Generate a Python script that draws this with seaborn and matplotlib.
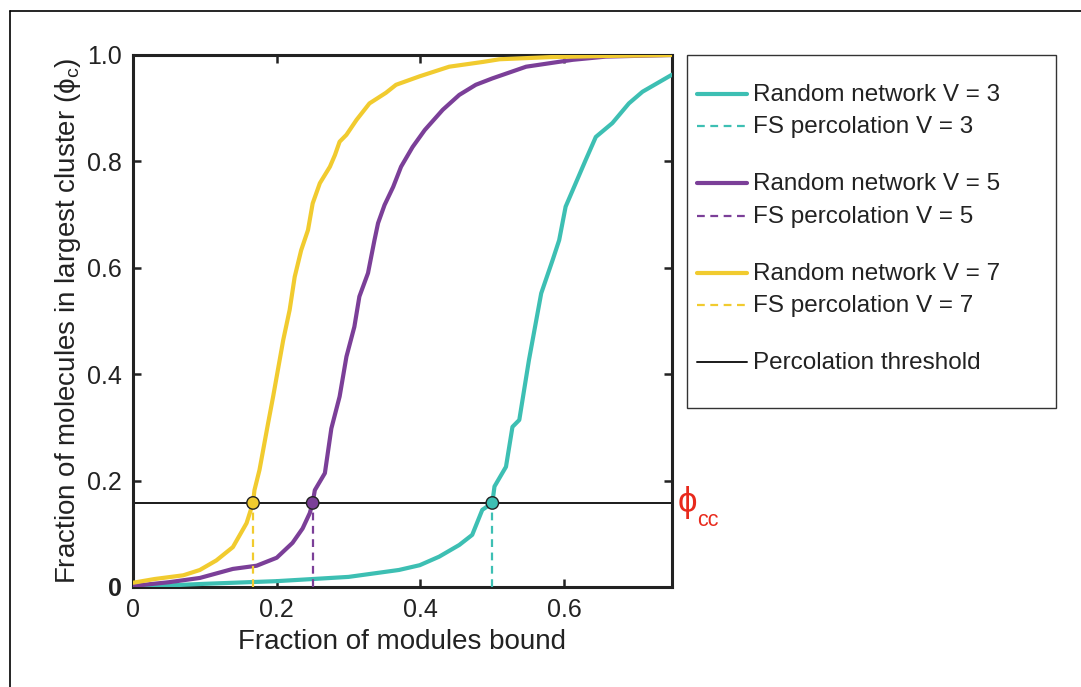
import numpy as np
import pandas as pd
import matplotlib
matplotlib.use("Agg")
import matplotlib.pyplot as plt
import matplotlib.transforms as mtransforms
import seaborn as sns
from matplotlib.lines import Line2D
from matplotlib.patches import Rectangle

# ---------------- data ----------------
teal_x = [0, 0.1, 0.2, 0.3, 0.37, 0.399, 0.426, 0.454, 0.472, 0.486, 0.5, 0.503, 0.519,
          0.528, 0.5375, 0.551, 0.568, 0.584, 0.593, 0.602, 0.616, 0.63, 0.644, 0.667,
          0.69, 0.709, 0.75]
teal_y = [0.0, 0.006, 0.011, 0.019, 0.032, 0.041, 0.057, 0.079, 0.098, 0.145, 0.158, 0.189,
          0.226, 0.301, 0.314, 0.427, 0.552, 0.615, 0.652, 0.715, 0.759, 0.803, 0.846, 0.872,
          0.909, 0.931, 0.963]

purple_x = [0, 0.05, 0.093, 0.139, 0.172, 0.2, 0.222, 0.236, 0.246, 0.25, 0.253, 0.267,
            0.276, 0.2875, 0.297, 0.308, 0.315, 0.327, 0.336, 0.341, 0.35, 0.362, 0.373,
            0.389, 0.406, 0.431, 0.454, 0.477, 0.5, 0.547, 0.612, 0.658, 0.75]
purple_y = [0.002, 0.009, 0.017, 0.034, 0.04, 0.055, 0.083, 0.11, 0.139, 0.158, 0.182, 0.214,
            0.298, 0.358, 0.433, 0.489, 0.546, 0.59, 0.652, 0.684, 0.718, 0.752, 0.79, 0.827,
            0.859, 0.897, 0.925, 0.944, 0.956, 0.978, 0.991, 0.997, 1.0]

yellow_x = [0, 0.03, 0.07, 0.093, 0.116, 0.139, 0.158, 0.167, 0.169, 0.176, 0.188, 0.195,
            0.209, 0.218, 0.225, 0.234, 0.2435, 0.25, 0.26, 0.274, 0.281, 0.2875, 0.297,
            0.311, 0.329, 0.352, 0.366, 0.399, 0.44, 0.487, 0.51, 0.58, 0.65, 0.75]
yellow_y = [0.008, 0.015, 0.022, 0.032, 0.05, 0.075, 0.12, 0.158, 0.182, 0.22, 0.308, 0.358,
            0.464, 0.521, 0.583, 0.633, 0.671, 0.721, 0.759, 0.79, 0.812, 0.837, 0.85, 0.878,
            0.909, 0.929, 0.944, 0.96, 0.978, 0.987, 0.992, 0.996, 0.998, 1.0]

phi_cc = 0.158
fs_threshold_x = [0.5, 0.25, 0.167]     # V = 3, 5, 7
valences = [3, 5, 7]
x_ticks = [0, 0.2, 0.4, 0.6]
x_ticklabels = ["0", "0.2", "0.4", "0.6"]
y_ticks = [0, 0.2, 0.4, 0.6, 0.8, 1.0]
y_ticklabels = ["0", "0.2", "0.4", "0.6", "0.8", "1.0"]

colors = ["#3dbfb3", "#7b3f98", "#f1cb2f"]

# ---------------- style ----------------
sns.set_theme(style="ticks")
plt.rcParams["font.family"] = ["Liberation Sans", "DejaVu Sans"]
plt.rcParams["mathtext.fontset"] = "custom"
plt.rcParams["mathtext.rm"] = "Liberation Sans"
plt.rcParams["mathtext.it"] = "Liberation Sans:italic"

fig = plt.figure(figsize=(10.81, 6.87), dpi=100)
W, H = 1081, 687
ax = fig.add_axes([133 / W, 1 - 587 / H, (672 - 133) / W, (587 - 55) / H])

frames = [
    pd.DataFrame({"x": teal_x, "y": teal_y}),
    pd.DataFrame({"x": purple_x, "y": purple_y}),
    pd.DataFrame({"x": yellow_x, "y": yellow_y}),
]

ax.axhline(phi_cc, color="#1a1a1a", lw=1.4, zorder=2)

for df, c in zip(frames, colors):
    sns.lineplot(data=df, x="x", y="y", ax=ax, color=c, lw=3.0, estimator=None,
                 sort=False, zorder=3)

for xv, c in zip(fs_threshold_x, colors):
    ax.vlines(xv, 0, phi_cc, colors=c, lw=1.6, linestyles=(0, (3.5, 2.5)), zorder=3.5)

pts = pd.DataFrame({"x": fs_threshold_x, "y": [phi_cc] * 3, "V": valences})
sns.scatterplot(data=pts, x="x", y="y", hue="V", palette=colors, ax=ax, s=80,
                edgecolor="#222222", linewidth=1.0, legend=False, zorder=5)

ax.set_xlim(0, 0.75)
ax.set_ylim(0, 1.0)
ax.set_xticks(x_ticks)
ax.set_xticklabels(x_ticklabels)
ax.set_yticks(y_ticks)
ax.set_yticklabels(y_ticklabels)
ax.get_yticklabels()[0].set_fontweight("bold")
ax.tick_params(axis="both", direction="in", length=6, width=1.8, labelsize=18,
               top=True, right=True, colors="#222222", labelcolor="#222222", pad=8)
for s in ax.spines.values():
    s.set_linewidth(2.2)
    s.set_color("#222222")
    s.set_visible(True)

ax.set_xlabel("Fraction of modules bound", fontsize=20, color="#222222", labelpad=5)
ax.set_ylabel("Fraction of molecules in largest cluster (\u03d5$_\\mathregular{c}$)",
              fontsize=20, color="#222222", labelpad=3)

# phi_cc label
trans = mtransforms.blended_transform_factory(ax.transAxes, ax.transData)
ax.annotate("\u03d5", xy=(1.0, phi_cc), xycoords=trans, xytext=(4, 0),
            textcoords="offset points", fontsize=25, color="#e8291c",
            va="center", ha="left", annotation_clip=False)
ax.annotate("cc", xy=(1.0, phi_cc), xycoords=trans, xytext=(18, -13),
            textcoords="offset points", fontsize=15.5, color="#e8291c",
            va="center", ha="left", annotation_clip=False)

# legend
handles, labels = [], []
for i, (c, v) in enumerate(zip(colors, valences)):
    handles.append(Line2D([], [], color=c, lw=3.0))
    labels.append(f"Random network V = {v}")
    handles.append(Line2D([], [], color=c, lw=1.6, ls=(0, (3.5, 2.5))))
    labels.append(f"FS percolation V = {v}")
    handles.append(Line2D([], [], alpha=0))
    labels.append(" ")
handles.append(Line2D([], [], color="#1a1a1a", lw=1.4))
labels.append("Percolation threshold")

leg = fig.legend(handles, labels, loc="upper left", bbox_to_anchor=(697 / W, 1 - 84 / H),
                 frameon=False, fontsize=17.5, handlelength=2.05, handletextpad=0.25,
                 labelspacing=0.42, handleheight=0.25, borderpad=0, borderaxespad=0)
for t in leg.get_texts():
    t.set_color("#222222")
    if t.get_text() == " ":
        t.set_fontsize(4.5)

fig.add_artist(Rectangle((687 / W, 1 - 408 / H), (1056 - 687) / W, (408 - 55) / H,
                         transform=fig.transFigure, fill=False, lw=1.0, edgecolor="#333333"))
# outer frame
fig.add_artist(Line2D([10 / W, 1.0], [1 - 11 / H, 1 - 11 / H], transform=fig.transFigure,
                      color="black", lw=1.2))
fig.add_artist(Line2D([10 / W, 10 / W], [0, 1 - 11 / H], transform=fig.transFigure,
                      color="black", lw=1.2))

fig.savefig("out.png", dpi=100, facecolor="white")
